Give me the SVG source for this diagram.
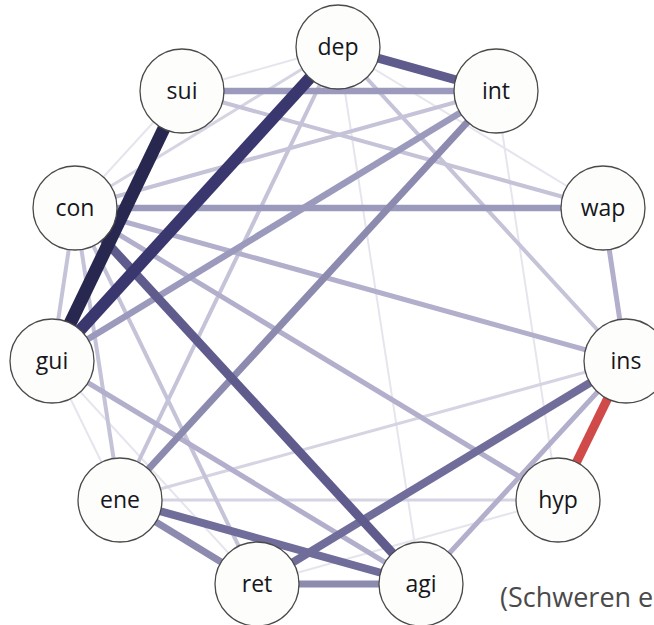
<svg xmlns="http://www.w3.org/2000/svg" width="654" height="625" viewBox="0 0 654 625">
  <style>
    .n circle { fill: #fdfdfb; stroke: #4a4a4a; stroke-width: 1.3; }
    .n text { font-family: "Open Sans", "Noto Sans", sans-serif; font-size: 23px; font-weight: 500; fill: #16161c; text-anchor: middle; }
    .e line { stroke-linecap: butt; }
    .w1 { stroke: #e6e5ee; stroke-width: 2; }
    .w2 { stroke: #d5d4e3; stroke-width: 3; }
    .w3 { stroke: #c4c3d8; stroke-width: 4; }
    .w4 { stroke: #b1afcb; stroke-width: 5; }
    .w5 { stroke: #9c9abc; stroke-width: 6.5; }
    .w6 { stroke: #8d8aaf; stroke-width: 7; }
    .w7 { stroke: #716d9b; stroke-width: 8; }
    .w8 { stroke: #5f5b8c; stroke-width: 9; }
    .w9 { stroke: #3a376f; stroke-width: 12; }
    .w10 { stroke: #28274f; stroke-width: 13; }
    .neg { stroke: #d14a4a; stroke-width: 9; }
    .note { font-family: "Open Sans", "Noto Sans", sans-serif; font-size: 27px; fill: #4a4a4a; }
  </style>

  <!-- connectors, faint to strong -->
  <g id="connectors" class="e">
    <line class="w1" x1="338" y1="47" x2="421" y2="584"/>
    <line class="w1" x1="338" y1="47" x2="182" y2="91"/>
    <line class="w1" x1="75" y1="208" x2="182" y2="91"/>
    <line class="w1" x1="338" y1="47" x2="603" y2="208"/>
    <line class="w1" x1="496" y1="91" x2="558" y2="500"/>
    <line class="w1" x1="52" y1="361" x2="257" y2="584"/>
    <line class="w1" x1="52" y1="361" x2="120" y2="500"/>
    <line class="w1" x1="257" y1="584" x2="558" y2="500"/>
    <line class="w2" x1="75" y1="208" x2="338" y2="47"/>
    <line class="w2" x1="120" y1="500" x2="626" y2="361"/>
    <line class="w2" x1="120" y1="500" x2="558" y2="500"/>
    <line class="w3" x1="75" y1="208" x2="257" y2="584"/>
    <line class="w3" x1="120" y1="500" x2="338" y2="47"/>
    <line class="w3" x1="75" y1="208" x2="120" y2="500"/>
    <line class="w3" x1="75" y1="208" x2="52" y2="361"/>
    <line class="w3" x1="182" y1="91" x2="603" y2="208"/>
    <line class="w3" x1="338" y1="47" x2="626" y2="361"/>
    <line class="w3" x1="75" y1="208" x2="496" y2="91"/>
    <line class="w4" x1="421" y1="584" x2="626" y2="361"/>
    <line class="w4" x1="52" y1="361" x2="421" y2="584"/>
    <line class="w4" x1="75" y1="208" x2="626" y2="361"/>
    <line class="w4" x1="603" y1="208" x2="626" y2="361"/>
    <line class="w4" x1="75" y1="208" x2="558" y2="500"/>
    <line class="w5" x1="182" y1="91" x2="496" y2="91"/>
    <line class="w5" x1="75" y1="208" x2="603" y2="208"/>
    <line class="w5" x1="52" y1="361" x2="496" y2="91"/>
    <line class="w6" x1="120" y1="500" x2="496" y2="91"/>
    <line class="w6" x1="120" y1="500" x2="257" y2="584"/>
    <line class="w6" x1="257" y1="584" x2="421" y2="584"/>
    <line class="w7" x1="120" y1="500" x2="421" y2="584"/>
    <line class="w7" x1="626" y1="361" x2="257" y2="584"/>
    <line class="w8" x1="75" y1="208" x2="421" y2="584"/>
    <line class="w8" x1="338" y1="47" x2="496" y2="91"/>
    <line class="neg" x1="626" y1="361" x2="558" y2="500"/>
    <line class="w9" x1="338" y1="47" x2="52" y2="361"/>
    <line class="w10" x1="182" y1="91" x2="52" y2="361"/>
  </g>

  <!-- nodes -->
  <g id="dep" class="n"><circle cx="338" cy="47" r="42"/><text x="338" y="55">dep</text></g>
  <g id="int" class="n"><circle cx="496" cy="91" r="42"/><text x="496" y="99">int</text></g>
  <g id="wap" class="n"><circle cx="603" cy="208" r="42"/><text x="603" y="216">wap</text></g>
  <g id="ins" class="n"><circle cx="626" cy="361" r="42"/><text x="626" y="369">ins</text></g>
  <g id="hyp" class="n"><circle cx="558" cy="500" r="42"/><text x="558" y="508">hyp</text></g>
  <g id="agi" class="n"><circle cx="421" cy="584" r="42"/><text x="421" y="592">agi</text></g>
  <g id="ret" class="n"><circle cx="257" cy="584" r="42"/><text x="257" y="592">ret</text></g>
  <g id="ene" class="n"><circle cx="120" cy="500" r="42"/><text x="120" y="508">ene</text></g>
  <g id="gui" class="n"><circle cx="52" cy="361" r="42"/><text x="52" y="369">gui</text></g>
  <g id="con" class="n"><circle cx="75" cy="208" r="42"/><text x="75" y="216">con</text></g>
  <g id="sui" class="n"><circle cx="182" cy="91" r="42"/><text x="182" y="99">sui</text></g>

  <text class="note" x="500" y="607">(Schweren e</text>
</svg>
